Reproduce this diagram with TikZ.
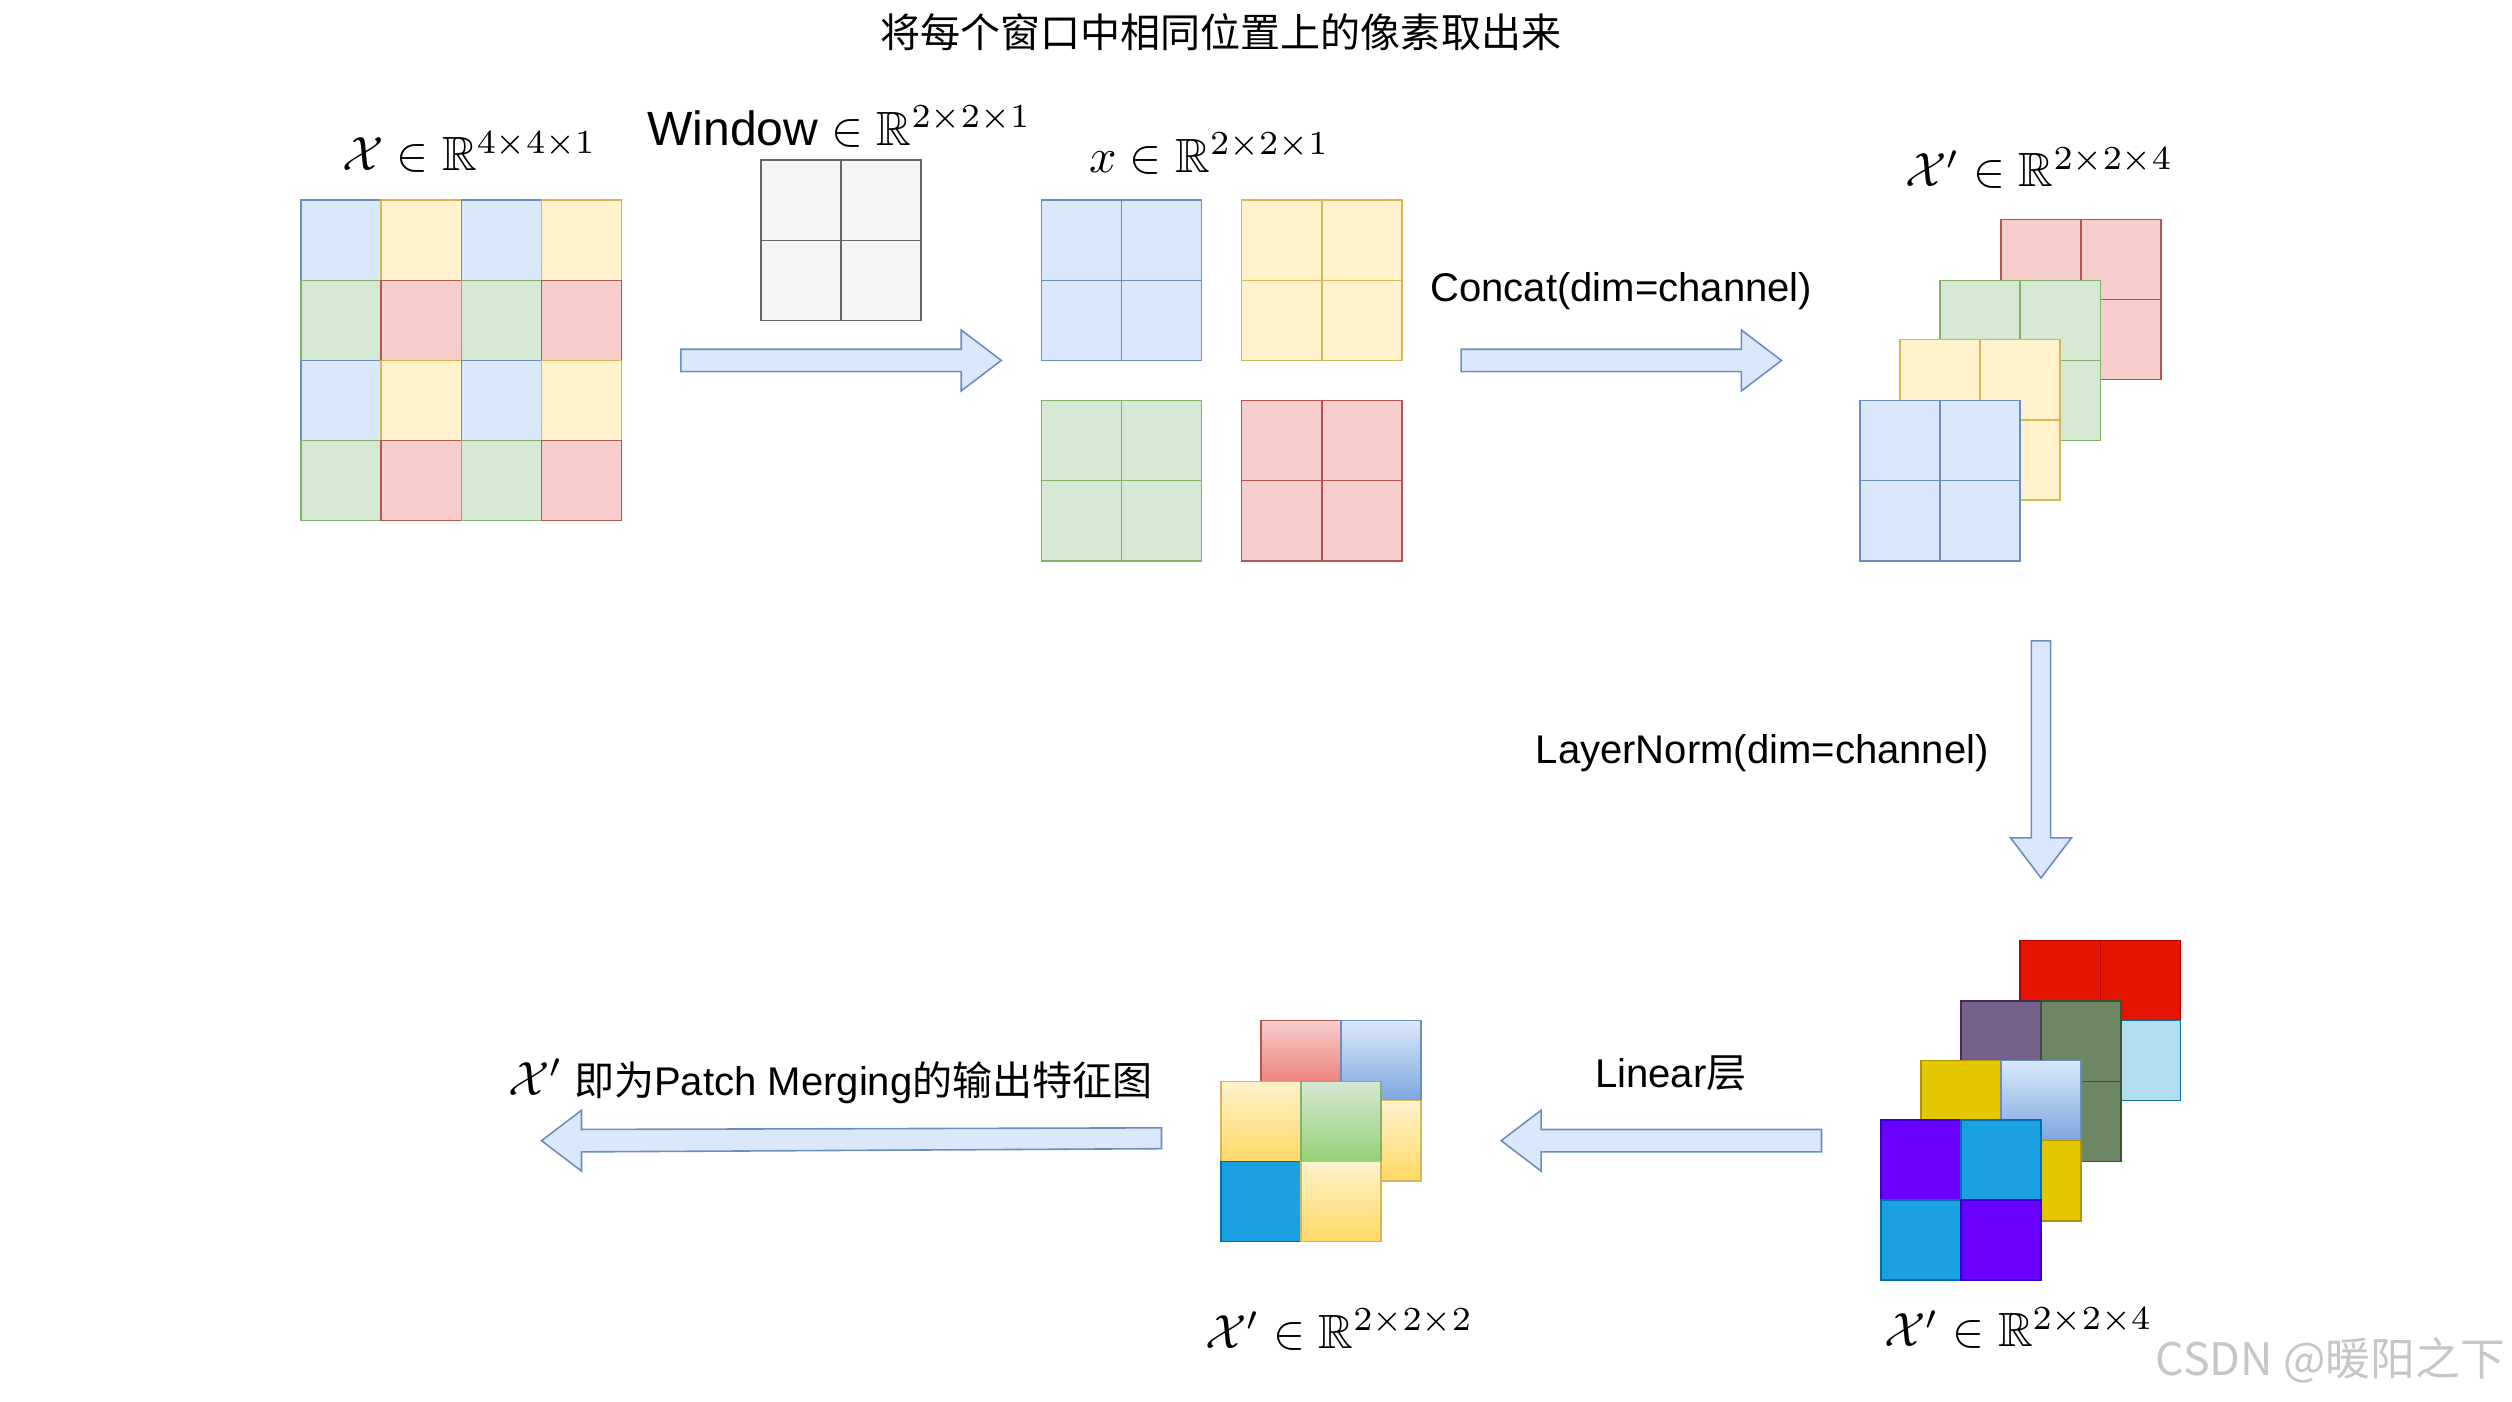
\documentclass[tikz,border=0pt]{standalone}
\usepackage{amsmath}
\usepackage{amssymb}
\usepackage{fontspec}
\setmainfont{Liberation Sans}
\newfontfamily\cjk{Noto Sans CJK SC}
\usetikzlibrary{positioning}

\definecolor{fb}{HTML}{DAE8FC}\definecolor{sb}{HTML}{6C8EBF}
\definecolor{fy}{HTML}{FFF2CC}\definecolor{sy}{HTML}{D6B656}
\definecolor{fg}{HTML}{D5E8D4}\definecolor{sg}{HTML}{82B366}
\definecolor{fr}{HTML}{F8CECC}\definecolor{sr}{HTML}{B85450}
\definecolor{fk}{HTML}{F5F5F5}\definecolor{sk}{HTML}{666666}
\definecolor{dred}{HTML}{E51400}\definecolor{sdred}{HTML}{B20000}
\definecolor{lblue}{HTML}{B1DDF0}\definecolor{slblue}{HTML}{10739E}
\definecolor{dpur}{HTML}{76608A}\definecolor{sdpur}{HTML}{432D57}
\definecolor{dgrn}{HTML}{6D8764}\definecolor{sdgrn}{HTML}{3A5431}
\definecolor{dyel}{HTML}{E3C800}\definecolor{sdyel}{HTML}{B09500}
\definecolor{vio}{HTML}{6A00FF}\definecolor{svio}{HTML}{3700CC}
\definecolor{cyan2}{HTML}{1BA1E2}\definecolor{scyan}{HTML}{006EAF}
\definecolor{gblue}{HTML}{7EA6E0}
\definecolor{gred}{HTML}{EA6B66}
\definecolor{gyel}{HTML}{FFD966}
\definecolor{ggrn}{HTML}{97D077}

\tikzset{
  bc/.style={fill=fb,draw=sb}, yc/.style={fill=fy,draw=sy},
  gc/.style={fill=fg,draw=sg}, rc/.style={fill=fr,draw=sr},
  kc/.style={fill=fk,draw=sk},
  redc/.style={fill=dred,draw=sdred}, lbc/.style={fill=lblue,draw=slblue},
  purc/.style={fill=dpur,draw=sdpur}, grnc/.style={fill=dgrn,draw=sdgrn},
  yelc/.style={fill=dyel,draw=sdyel}, vioc/.style={fill=vio,draw=svio},
  cyc/.style={fill=cyan2,draw=scyan},
  bgr/.style={top color=fb,bottom color=gblue,draw=sb},
  rgr/.style={top color=fr,bottom color=gred,draw=sr},
  ygr/.style={top color=fy,bottom color=gyel,draw=sy},
  ggr/.style={top color=fg,bottom color=ggrn,draw=sg},
  lbl/.style={scale=3,inner sep=0},
  txt/.style={scale=2.5,inner sep=0},
  barrow/.style={fill=fb,draw=sb,line width=1pt,line join=miter}
}

\newcommand{\sq}[3]{\draw[#3] (#1,#2) rectangle ++(50,50);}
% 2x2 block: x, y, tl, tr, bl, br
\newcommand{\blk}[6]{\sq{#1}{#2}{#3}\sq{#1+50}{#2}{#4}\sq{#1}{#2+50}{#5}\sq{#1+50}{#2+50}{#6}}

\begin{document}
\begin{tikzpicture}[x=1pt,y=-1pt,line width=1pt]
    \useasboundingbox (0,0) rectangle (1568,875);

    \node[txt] (title) at (762,20) {\cjk 将每个窗口中相同位置上的像素取出来};

    % input 4x4
    \foreach \i in {0,100}{\foreach \j in {0,100}{
      \blk{188+\j}{125+\i}{bc}{yc}{gc}{rc}
    }}
    \node[lbl] (inlbl) at (293,95) {$\mathcal{X}\in\mathbb{R}^{4\times4\times1}$};

    % window
    \blk{475}{100}{kc}{kc}{kc}{kc}
    \node[lbl] (winlbl) at (524,79) {$\mathrm{Window}\in\mathbb{R}^{2\times2\times1}$};

    \draw[barrow] (425,218) -- (600,218) -- (600,206) -- (625,225) -- (600,244) -- (600,232) -- (425,232) -- cycle;

    % split
    \blk{650}{125}{bc}{bc}{bc}{bc}
    \blk{775}{125}{yc}{yc}{yc}{yc}
    \blk{650}{250}{gc}{gc}{gc}{gc}
    \blk{775}{250}{rc}{rc}{rc}{rc}
    \node[lbl] (xlbl) at (755,96) {$x\in\mathbb{R}^{2\times2\times1}$};

    \draw[barrow] (912,218) -- (1087,218) -- (1087,206) -- (1112,225) -- (1087,244) -- (1087,232) -- (912,232) -- cycle;
    \node[txt] (concat) at (1012,182) {Concat(dim=channel)};

    % concat stack
    \blk{1249}{137}{rc}{rc}{rc}{rc}
    \blk{1211}{175}{gc}{gc}{gc}{gc}
    \blk{1186}{212}{yc}{yc}{yc}{yc}
    \blk{1161}{250}{bc}{bc}{bc}{bc}
    \node[lbl] (catlbl) at (1273,105) {$\mathcal{X}'\in\mathbb{R}^{2\times2\times4}$};

    \draw[barrow] (1268,400) -- (1268,523) -- (1255,523) -- (1274,548) -- (1293,523) -- (1280,523) -- (1280,400) -- cycle;
    \node[txt] (norm) at (1100,470) {LayerNorm(dim=channel)};

    % normed stack
    \blk{1261}{587}{redc}{redc}{lbc}{lbc}
    \blk{1224}{625}{purc}{grnc}{purc}{grnc}
    \blk{1199}{662}{yelc}{bgr}{yelc}{yelc}
    \blk{1174}{699}{vioc}{cyc}{cyc}{vioc}
    \node[lbl] (nrmlbl) at (1260,829) {$\mathcal{X}'\in\mathbb{R}^{2\times2\times4}$};

    \draw[barrow] (1137,705) -- (962,705) -- (962,693) -- (937,712) -- (962,731) -- (962,719) -- (1137,719) -- cycle;
    \node[txt] (linear) at (1043,670) {Linear{\cjk 层}};

    % output stack
    \blk{787}{637}{rgr}{bgr}{ygr}{ygr}
    \blk{762}{675}{ygr}{ggr}{cyc}{ygr}
    \node[lbl] (outlbl) at (836,830) {$\mathcal{X}'\in\mathbb{R}^{2\times2\times2}$};

    \draw[barrow] (725,704) -- (363,705) -- (363,693) -- (338,712) -- (363,731) -- (363,719) -- (725,717) -- cycle;
    \node[txt,anchor=west] (final) at (316,675) {\scalebox{1.2}{$\mathcal{X}'$}\ {\cjk 即为}Patch Merging{\cjk 的输出特征图}};

    \node[scale=2.8,inner sep=0,text=gray!45,anchor=east] (mark) at (1565,849) {\cjk CSDN @暖阳之下};
\end{tikzpicture}
\end{document}
